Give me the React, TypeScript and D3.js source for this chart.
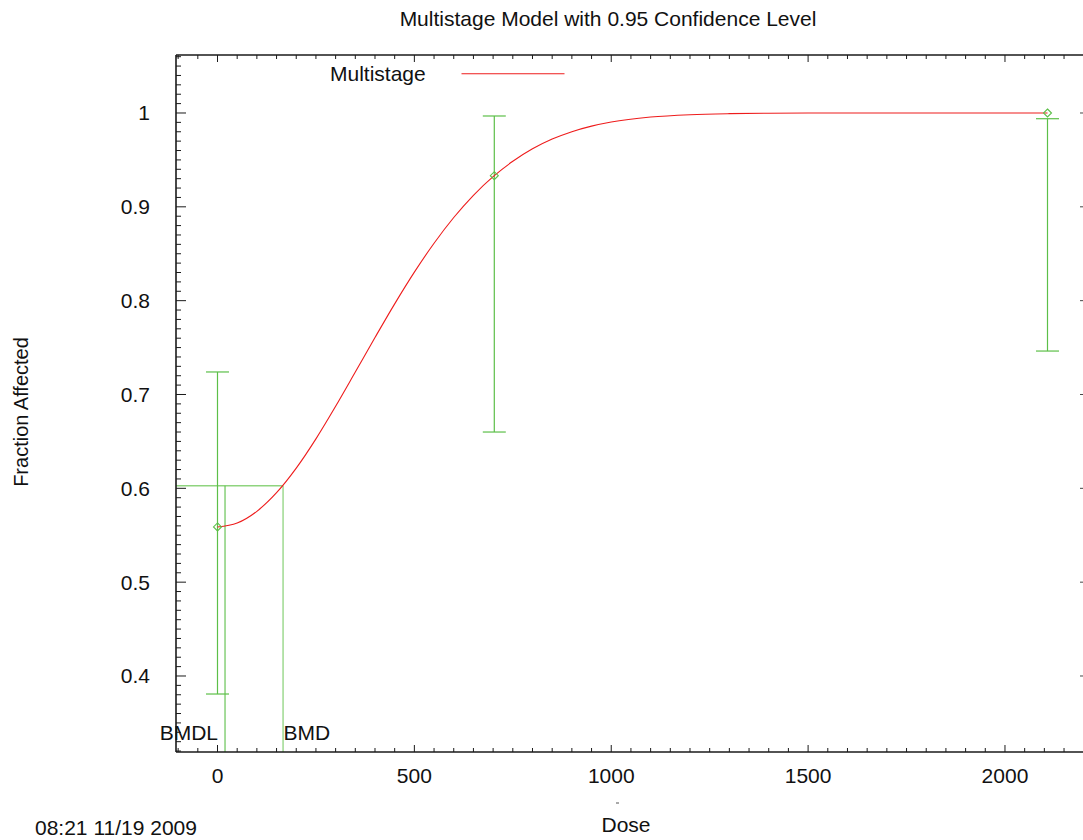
import React from "react";
import * as d3 from "d3";

const W = 1083;
const H = 840;

// Observed data (dose, fraction affected, 95% CI)
const doses = [0, 703, 2108];
const fractions = [0.5588, 0.9332, 1.0];
const ciLower = [0.3808, 0.66, 0.7463];
const ciUpper = [0.724, 0.9968, 0.9939];

// Fitted multistage curve
const curveDose = [0, 50, 100, 150, 200, 250, 300, 350, 400, 450, 500, 550, 600, 650, 700, 750, 800, 850, 900, 950, 1000, 1100, 1200, 1300, 1400, 1500, 1700, 1900, 2108];
const curveFrac = [0.5588, 0.5630, 0.5755, 0.5953, 0.6215, 0.6527, 0.6874, 0.7239, 0.7607, 0.7966, 0.8304, 0.8612, 0.8886, 0.9123, 0.9322, 0.9485, 0.9618, 0.9722, 0.9801, 0.9860, 0.9904, 0.9957, 0.9982, 0.9993, 0.99975, 0.99992, 1.0, 1.0, 1.0];

const bmd = 166.5;
const bmdl = 19.1;
const bmrLevel = 0.6028;

const xMajor = [0, 500, 1000, 1500, 2000];
const yMajor = [0.4, 0.5, 0.6, 0.7, 0.8, 0.9, 1];
const yTickLabels = ["0.4", "0.5", "0.6", "0.7", "0.8", "0.9", "1"];

const titleText = "Multistage Model with 0.95 Confidence Level";
const xLabel = "Dose";
const yLabel = "Fraction Affected";
const legendLabel = "Multistage";
const timestamp = "08:21 11/19 2009";

const FONT = "'Liberation Sans', Arial, Helvetica, sans-serif";

export default function App() {
  const left = 176;
  const right = 1089;
  const top = 55;
  const bottom = 752;

  const x = d3.scaleLinear().domain([-105.4, 2213.4]).range([left, right]);
  const y = d3.scaleLinear().domain([0.319, 1.0618]).range([bottom, top]);

  const xMinor = d3.range(-100, 2201, 50);
  const yMinor = d3.range(32, 107, 1).map((v) => v / 100);

  const line = d3
    .line<number>()
    .x((_, i) => x(curveDose[i]))
    .y((d) => y(d))
    .curve(d3.curveMonotoneX);

  const green = "#5cbf48";
  const lightGreen = "#8fd47f";
  const axisColor = "#1a1a1a";

  const isMajorX = (v: number) => v % 500 === 0;
  const isMajorY = (v: number) => Math.round(v * 100) % 10 === 0;

  return (
    <svg width={W} height={H} style={{ display: "block", position: "absolute", left: 0, top: 0 }} fontFamily={FONT}>
      <rect x={0} y={0} width={W} height={H} fill="#fff" />
      {/* Title */}
      <text x={608} y={26} fontSize={21} textAnchor="middle" fill="#111">
        {titleText}
      </text>

      {/* BMD lines */}
      <line x1={left} x2={x(bmd)} y1={y(bmrLevel)} y2={y(bmrLevel)} stroke={lightGreen} strokeWidth={1.5} />
      <line x1={x(bmd)} x2={x(bmd)} y1={y(bmrLevel)} y2={bottom} stroke={lightGreen} strokeWidth={1.3} />
      <line x1={x(bmdl)} x2={x(bmdl)} y1={y(bmrLevel)} y2={bottom} stroke={green} strokeWidth={1.1} />

      {/* Error bars */}
      {doses.map((d, i) => (
        <g key={"eb" + i}>
          <line x1={x(d)} x2={x(d)} y1={y(ciLower[i])} y2={y(ciUpper[i])} stroke={green} strokeWidth={1.2} />
          <line x1={x(d) - 11.5} x2={x(d) + 11.5} y1={y(ciLower[i])} y2={y(ciLower[i])} stroke={green} strokeWidth={1.2} />
          <line x1={x(d) - 11.5} x2={x(d) + 11.5} y1={y(ciUpper[i])} y2={y(ciUpper[i])} stroke={green} strokeWidth={1.2} />
        </g>
      ))}

      {/* Curve */}
      <path d={line(curveFrac) || ""} fill="none" stroke="#ee1c1c" strokeWidth={1.1} />

      {/* Points */}
      {doses.map((d, i) => {
        const cx = x(d);
        const cy = y(fractions[i]);
        const r = 4;
        return (
          <path
            key={"pt" + i}
            d={`M${cx},${cy - r}L${cx + r},${cy}L${cx},${cy + r}L${cx - r},${cy}Z`}
            fill="none"
            stroke={green}
            strokeWidth={1.1}
          />
        );
      })}

      {/* Axes box */}
      <line x1={left} x2={left} y1={top} y2={bottom} stroke={axisColor} strokeWidth={1.6} />
      <line x1={left} x2={right} y1={bottom} y2={bottom} stroke={axisColor} strokeWidth={1.6} />
      <line x1={left} x2={right} y1={top} y2={top} stroke={axisColor} strokeWidth={1.6} />

      {/* X ticks bottom & top */}
      {xMinor.map((v) => (
        <g key={"xt" + v}>
          <line x1={x(v)} x2={x(v)} y1={bottom} y2={bottom - (isMajorX(v) ? 7 : 4)} stroke={axisColor} strokeWidth={1} />
          <line x1={x(v)} x2={x(v)} y1={top} y2={top + (isMajorX(v) ? 7 : 4)} stroke={axisColor} strokeWidth={1} />
        </g>
      ))}
      {xMajor.map((v) => (
        <text key={"xl" + v} x={x(v)} y={783} fontSize={21} textAnchor="middle" fill="#111">
          {v}
        </text>
      ))}

      {/* Y ticks left */}
      {yMinor.map((v) => (
        <line
          key={"yt" + v}
          x1={left}
          x2={left + (isMajorY(v) ? 10 : 5)}
          y1={y(v)}
          y2={y(v)}
          stroke={axisColor}
          strokeWidth={1}
        />
      ))}
      {/* Y ticks right (major only) */}
      {yMajor.map((v) => (
        <line key={"yr" + v} x1={1080} x2={1084} y1={y(v)} y2={y(v)} stroke="#444" strokeWidth={1} />
      ))}
      {yMajor.map((v, i) => (
        <text key={"yl" + v} x={150} y={y(v) + 7.5} fontSize={21} textAnchor="end" fill="#111">
          {yTickLabels[i]}
        </text>
      ))}

      {/* BMD labels */}
      <text x={218} y={740} fontSize={21} textAnchor="end" fill="#111">
        BMDL
      </text>
      <text x={x(bmd) + 0.5} y={740} fontSize={21} textAnchor="start" fill="#111">
        BMD
      </text>

      {/* Legend */}
      <text x={330} y={81} fontSize={21} fill="#111">
        {legendLabel}
      </text>
      <line x1={461.5} x2={564.5} y1={73.7} y2={73.7} stroke="#ee1c1c" strokeWidth={1.1} />

      {/* Axis labels */}
      <text x={626} y={832} fontSize={21} textAnchor="middle" fill="#111">
        {xLabel}
      </text>
      <line x1={616} x2={619} y1={803} y2={803} stroke="#555" strokeWidth={1} />
      <text
        transform={`translate(21,412) rotate(-90)`}
        fontSize={20}
        textAnchor="middle"
        dominantBaseline="central"
        fill="#111"
      >
        {yLabel}
      </text>

      {/* Timestamp */}
      <text x={35} y={835} fontSize={21} fill="#111">
        {timestamp}
      </text>
    </svg>
  );
}
